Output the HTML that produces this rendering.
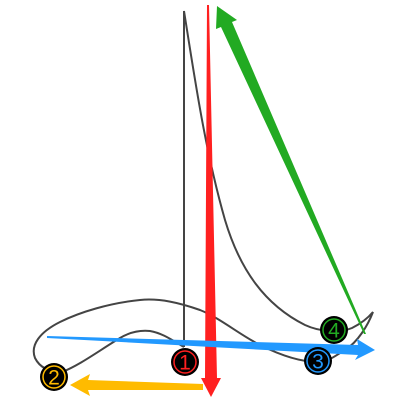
<!DOCTYPE html>
<html><head><meta charset="utf-8"><style>
html,body{margin:0;padding:0;background:#fff;width:400px;height:400px;overflow:hidden}
svg{display:block}
text{font-family:"Liberation Sans",sans-serif;font-size:21px;text-anchor:middle;dominant-baseline:central}
</style></head><body>
<svg width="400" height="400" viewBox="0 0 400 400">
<g fill="none" stroke="#444" stroke-width="2">
<path d="M184,347 L184,11 C195,80 205,150 225,220 C240,270 265,305 305,325 C320,332 340,333 352,328 C362,323 368,318 373,312 C368,325 358,342 345,350 C335,356 328,362 318,362 C300,362 280,355 260,345 C240,335 220,318 200,310 C180,303 160,298 140,300 C110,303 80,312 60,322 C40,332 30,345 35,358 C40,368 50,372 62,372 C80,365 100,350 120,338 C130,332 140,330 150,331 C162,333 172,340 184,347"/>
</g>
<g>
<polygon points="207,5 209,5 217,378 221,378 211,397 201,378 205,378" fill="#ff2020"/>
</g>
<g>
<polygon points="203,384 203,390 88,390 90,396 70,385 90,374 88,380" fill="#ffbb00"/>
</g>
<g>
<polygon points="47,336 47,338 358,355 355,360 375,350 357,339 358,345" fill="#2299ff"/>
</g>
<g>
<polygon points="366,334 364,334 221,27 216,29 217,6 237,20 232,22" fill="#22aa22"/>
</g>
<g>
<circle cx="185" cy="362" r="14" fill="#000"/><circle cx="185" cy="362" r="11" fill="none" stroke="#ff2020" stroke-width="1.5"/>
<text x="185" y="363" fill="#ff2020">1</text></g>
<g>
<circle cx="54" cy="377" r="14" fill="#000"/><circle cx="54" cy="377" r="11" fill="none" stroke="#ffbb00" stroke-width="1.5"/>
<text x="54" y="378" fill="#ffbb00">2</text></g>
<g>
<circle cx="318" cy="361" r="14" fill="#000"/><circle cx="318" cy="361" r="11" fill="none" stroke="#2299ff" stroke-width="1.5"/>
<text x="318" y="362" fill="#2299ff">3</text></g>
<g>
<circle cx="334" cy="330" r="14" fill="#000"/><circle cx="334" cy="330" r="11" fill="none" stroke="#22aa22" stroke-width="1.5"/>
<text x="334" y="331" fill="#22aa22">4</text></g>
</svg>
</body></html>
